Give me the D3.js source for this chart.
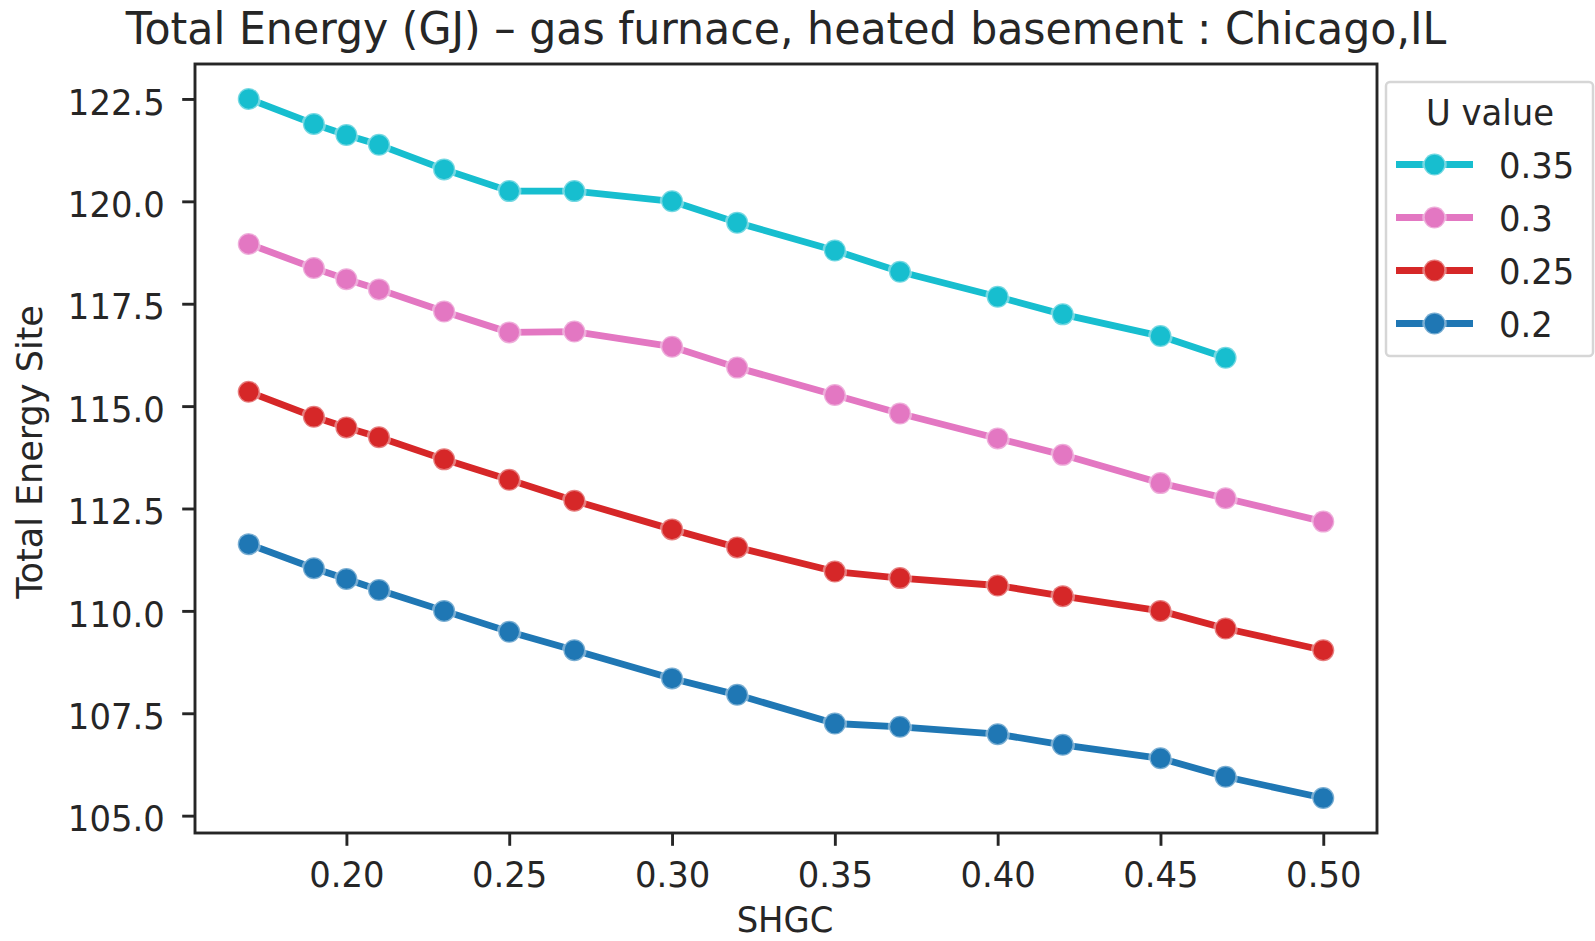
<!DOCTYPE html>
<html>
<head>
<meta charset="utf-8">
<script src="https://cdn.jsdelivr.net/npm/d3@7"></script>
<style>
  html, body { margin: 0; padding: 0; background: #ffffff; }
  svg { display: block; }
  text { font-family: "DejaVu Sans", sans-serif; fill: #262626; }
</style>
</head>
<body>
<svg id="chart" width="1595" height="941"></svg>
<script>
// SHGC values along the x axis
const shgc = [0.17, 0.19, 0.20, 0.21, 0.23, 0.25, 0.27, 0.30, 0.32, 0.35, 0.37, 0.40, 0.42, 0.45, 0.47, 0.50];

// Total site energy (GJ) for each window U value
const energyU035 = [122.50, 121.89, 121.62, 121.38, 120.78, 120.25, 120.25, 120.00, 119.48, 118.80, 118.28, 117.67, 117.24, 116.71, 116.18];
const energyU030 = [118.96, 118.37, 118.10, 117.85, 117.31, 116.80, 116.82, 116.45, 115.94, 115.27, 114.82, 114.21, 113.81, 113.12, 112.75, 112.18];
const energyU025 = [115.35, 114.74, 114.48, 114.24, 113.70, 113.20, 112.69, 111.99, 111.55, 110.96, 110.80, 110.62, 110.36, 110.00, 109.57, 109.04];
const energyU020 = [111.63, 111.04, 110.78, 110.51, 110.00, 109.49, 109.04, 108.35, 107.95, 107.25, 107.17, 106.99, 106.73, 106.40, 105.95, 105.43];

const uLabels = ["0.35", "0.3", "0.25", "0.2"];
const uColors = ["#17becf", "#e377c2", "#d62728", "#1f77b4"];

const xTicks = [0.20, 0.25, 0.30, 0.35, 0.40, 0.45, 0.50];
const yTicks = [105.0, 107.5, 110.0, 112.5, 115.0, 117.5, 120.0, 122.5];

const titleText = "Total Energy (GJ) \u2013 gas furnace, heated basement : Chicago,IL";
const xLabelText = "SHGC";
const yLabelText = "Total Energy Site";
const legendTitleText = "U value";

const series = [energyU035, energyU030, energyU025, energyU020].map((vals, i) => ({
  label: uLabels[i],
  color: uColors[i],
  points: vals.map((v, j) => ({ x: shgc[j], y: v }))
}));

// Layout
const plot = { left: 195, top: 64, right: 1377, bottom: 833 };
const squeeze = 0.94;
const baseFont = 36;

const svg = d3.select("#chart");

// Scales padded by 5% of the data range on each side
function padded(ext) {
  const p = (ext[1] - ext[0]) * 0.05;
  return [ext[0] - p, ext[1] + p];
}
const allY = series.flatMap(s => s.points.map(d => d.y));
const x = d3.scaleLinear().domain(padded(d3.extent(shgc))).range([plot.left, plot.right]);
const y = d3.scaleLinear().domain(padded(d3.extent(allY))).range([plot.bottom, plot.top]);

function squeezedText(parent, px, py, str, size, anchor, sx) {
  return parent.append("text")
    .attr("transform", `translate(${px},${py}) scale(${sx || squeeze},1)`)
    .attr("text-anchor", anchor || "start")
    .style("font-size", size + "px")
    .text(str);
}

// Axes
const tickLen = 12.8;
const axisColor = "#262626";

const yAxis = svg.append("g")
  .attr("transform", `translate(${plot.left},0)`)
  .call(d3.axisLeft(y).tickValues(yTicks).tickFormat(d3.format(".1f")).tickSize(tickLen).tickPadding(17.5));
const xAxis = svg.append("g")
  .attr("transform", `translate(0,${plot.bottom})`)
  .call(d3.axisBottom(x).tickValues(xTicks).tickFormat(d3.format(".2f")).tickSize(tickLen).tickPadding(15.5));

[yAxis, xAxis].forEach(g => {
  g.select(".domain").remove();
  g.selectAll(".tick line").attr("stroke", axisColor).attr("stroke-width", 2.9);
  g.selectAll(".tick text")
    .style("font-size", baseFont + "px")
    .attr("fill", axisColor)
    .style("font-family", "DejaVu Sans, sans-serif");
});
yAxis.selectAll(".tick text").each(function () {
  const t = d3.select(this);
  const tx = +t.attr("x");
  t.attr("x", 0).attr("dy", "0.42em").attr("transform", `translate(${tx},0) scale(${squeeze},1)`);
});
xAxis.selectAll(".tick text").each(function () {
  const t = d3.select(this);
  const ty = +t.attr("y");
  t.attr("y", 0).attr("transform", `translate(0,${ty}) scale(${squeeze},1)`);
});

// Series lines and markers
const line = d3.line().x(d => x(d.x)).y(d => y(d.y));
const seriesG = svg.append("g");
series.slice().reverse().forEach(s => {
  seriesG.append("path")
    .datum(s.points)
    .attr("d", line)
    .attr("fill", "none")
    .attr("stroke", s.color)
    .attr("stroke-width", 6.8)
    .attr("stroke-linejoin", "round");
  seriesG.selectAll(null)
    .data(s.points)
    .enter()
    .append("circle")
    .attr("cx", d => x(d.x))
    .attr("cy", d => y(d.y))
    .attr("r", 11)
    .attr("fill", s.color)
    .attr("stroke", "#ffffff")
    .attr("stroke-opacity", 0.4)
    .attr("stroke-width", 2.5);
});

// Frame
svg.append("rect")
  .attr("x", plot.left)
  .attr("y", plot.top)
  .attr("width", plot.right - plot.left)
  .attr("height", plot.bottom - plot.top)
  .attr("fill", "none")
  .attr("stroke", axisColor)
  .attr("stroke-width", 2.9);

// Title and axis labels
squeezedText(svg, (plot.left + plot.right) / 2, 44, titleText, 44, "middle", 0.97);
squeezedText(svg, 785, 932, xLabelText, baseFont, "middle");
svg.append("text")
  .attr("transform", `translate(42,452) rotate(-90)`)
  .attr("text-anchor", "middle")
  .style("font-size", "35px")
  .text(yLabelText);

// Legend
const lg = svg.append("g");
lg.append("rect")
  .attr("x", 1386)
  .attr("y", 82)
  .attr("width", 207)
  .attr("height", 274)
  .attr("rx", 4)
  .attr("fill", "#ffffff")
  .attr("stroke", "#d6d6d6")
  .attr("stroke-width", 2.5);
squeezedText(lg, 1490, 125, legendTitleText, baseFont, "middle");
series.forEach((s, i) => {
  const cy = 164.5 + i * 53;
  lg.append("line")
    .attr("x1", 1396).attr("x2", 1473)
    .attr("y1", cy).attr("y2", cy)
    .attr("stroke", s.color)
    .attr("stroke-width", 6.8);
  lg.append("circle")
    .attr("cx", 1434.5).attr("cy", cy)
    .attr("r", 11)
    .attr("fill", s.color)
    .attr("stroke", "#ffffff")
    .attr("stroke-opacity", 0.4)
    .attr("stroke-width", 2.5);
  squeezedText(lg, 1499, cy + 13.5, s.label, baseFont, "start");
});
</script>
</body>
</html>
